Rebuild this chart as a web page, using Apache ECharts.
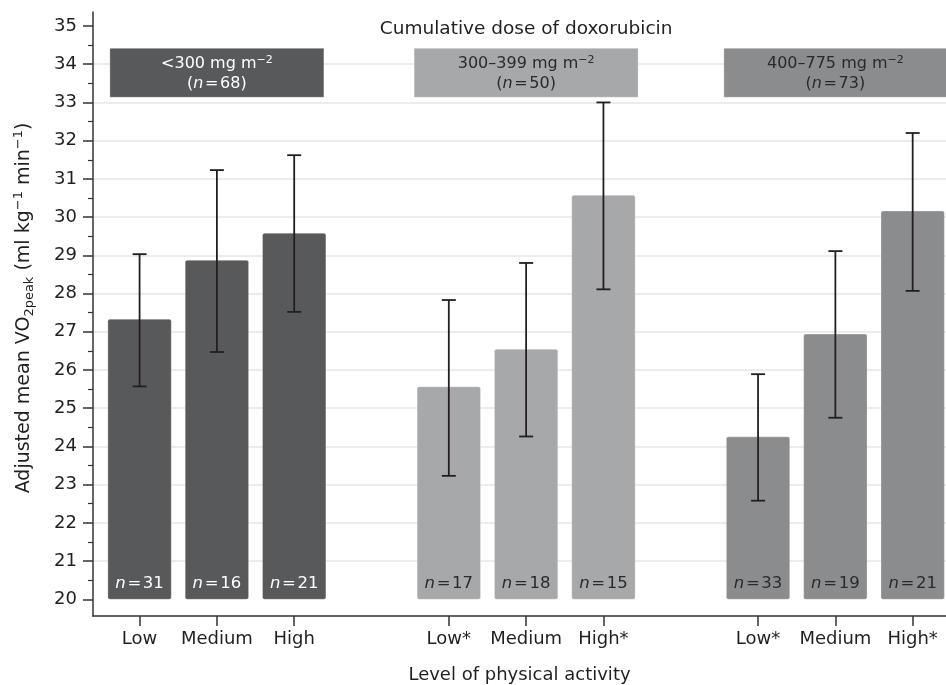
<!DOCTYPE html>
<html><head><meta charset="utf-8">
<script src="https://cdn.jsdelivr.net/npm/echarts@6/dist/echarts.min.js"></script>
<style>html,body{margin:0;padding:0;background:#fff}#c{width:946px;height:685px}</style>
</head><body><div id="c"></div>
<script>
// ---- data ----
const chartTitle = 'Cumulative dose of doxorubicin';
const groupLabels = ['<300', '300–399', '400–775'];
const groupN = [68, 50, 73];
const xLabels = ['Low', 'Medium', 'High', 'Low*', 'Medium', 'High*', 'Low*', 'Medium', 'High*'];
const means = [27.33, 28.87, 29.58, 25.56, 26.54, 30.57, 24.25, 26.94, 30.16];
const upper = [29.03, 31.23, 31.62, 27.83, 28.80, 33.00, 25.89, 29.11, 32.20];
const lower = [25.57, 26.47, 27.52, 23.23, 24.26, 28.11, 22.58, 24.75, 28.07];
const barN = [31, 16, 21, 17, 18, 15, 33, 19, 21];
const yTickLabels = [20, 21, 22, 23, 24, 25, 26, 27, 28, 29, 30, 31, 32, 33, 34, 35];
const yMinorTicks = [20.5, 21.5, 22.5, 23.5, 24.5, 25.5, 26.5, 27.5, 28.5, 29.5, 30.5, 31.5, 32.5, 33.5, 34.5];
const yGridLines = [21, 22, 23, 24, 25, 26, 27, 28, 29, 30, 31, 32, 33, 34];
const barBase = 20;

// ---- layout / style ----
const FONT = 'DejaVu Sans';
const TXT = '#231f20';
const groupColors = ['#58595b', '#a6a8aa', '#8b8c8e'];
const groupText = ['#ffffff', '#2a2a2a', '#2a2a2a'];
const headerWidths = [214, 224, 223];
const slot = i => Math.floor(i / 3) * 4 + (i % 3) + 1;
const slots = xLabels.map((_, i) => slot(i));

const chart = echarts.init(document.getElementById('c'), null, {renderer: 'canvas'});

const yBase = {
  type: 'value', min: 19.563, max: 35.366, gridIndex: 0, position: 'left', offset: 0,
  axisLine: {show: false}, axisLabel: {show: false},
  axisTick: {show: false}, splitLine: {show: false}
};

const option = {
  animation: false,
  backgroundColor: '#ffffff',
  grid: {left: 93, right: 0, top: 12, bottom: 69, containLabel: false, outerBoundsMode: 'none'},
  xAxis: {
    type: 'value', min: 0.3975, max: 11.431,
    axisLine: {show: true, lineStyle: {color: '#333', width: 1.5}},
    axisTick: {show: true, customValues: slots, length: 10, lineStyle: {color: '#333', width: 1.5}},
    axisLabel: {
      show: true, customValues: slots, margin: 14,
      fontFamily: FONT, fontSize: 18, color: TXT,
      formatter: v => xLabels[slots.indexOf(Math.round(v))] || ''
    },
    splitLine: {show: false},
    name: 'Level of physical activity', nameLocation: 'middle', nameGap: 50,
    nameTextStyle: {fontFamily: FONT, fontSize: 18, color: TXT}
  },
  yAxis: [
    Object.assign({}, yBase, {
      axisTick: {show: false, customValues: yGridLines},
      splitLine: {show: true, lineStyle: {color: '#e6e6e6', width: 1.5}}
    }),
    Object.assign({}, yBase, {
      axisTick: {show: true, customValues: yMinorTicks, length: 5, lineStyle: {color: '#333', width: 1.2}}
    }),
    Object.assign({}, yBase, {
      axisLine: {show: true, lineStyle: {color: '#333', width: 1.5}},
      axisTick: {show: true, customValues: yTickLabels, length: 10, lineStyle: {color: '#333', width: 1.5}},
      axisLabel: {show: true, customValues: yTickLabels, margin: 16, fontFamily: FONT, fontSize: 18, color: TXT}
    })
  ],
  graphic: [{
    type: 'text', x: 24, y: 308, rotation: Math.PI / 2,
    style: {
      text: '{a|Adjusted mean VO}{sub|2peak}{a| (ml kg}{sup|−1}{a| min}{sup|−1}{a|)}',
      align: 'center', verticalAlign: 'middle',
      rich: {
        a: {fontFamily: FONT, fontSize: 19, fill: TXT, color: TXT, lineHeight: 24},
        sub: {fontFamily: FONT, fontSize: 13, fill: TXT, color: TXT, lineHeight: 14, verticalAlign: 'bottom'},
        sup: {fontFamily: FONT, fontSize: 13, fill: TXT, color: TXT, lineHeight: 12, verticalAlign: 'top'}
      }
    }
  }],
  series: [
    {
      type: 'custom', name: 'bars', xAxisIndex: 0, yAxisIndex: 0,
      encode: {x: 0, y: 1},
      data: means.map((m, i) => [slot(i), m, i]),
      renderItem: (params, api) => {
        const x = api.value(0), v = api.value(1), i = api.value(2);
        const g = Math.floor(i / 3);
        const top = api.coord([x, v]);
        const bot = api.coord([x, barBase]);
        const w = api.size([0.82, 0])[0];
        return {
          type: 'group', children: [
            {type: 'rect', shape: {x: top[0] - w / 2, y: top[1], width: w, height: bot[1] - top[1], r: 2},
             style: {fill: groupColors[g], stroke: 'rgba(255,255,255,0.3)', lineWidth: 1}},
            {type: 'text', x: top[0], y: bot[1] - 16,
             style: {text: '{i|n}{t|\u200A=\u200A' + barN[i] + '}', align: 'center', verticalAlign: 'middle',
               rich: {
                 i: {fontFamily: FONT, fontSize: 16.5, fontStyle: 'italic', fill: groupText[g], color: groupText[g]},
                 t: {fontFamily: FONT, fontSize: 16.5, fill: groupText[g], color: groupText[g]}
               }}}
          ]
        };
      }
    },
    {
      type: 'custom', name: 'errors', xAxisIndex: 0, yAxisIndex: 0,
      encode: {x: 0, y: [1, 2]},
      data: means.map((m, i) => [slot(i), lower[i], upper[i]]),
      renderItem: (params, api) => {
        const x = api.value(0);
        const lo = api.coord([x, api.value(1)]);
        const hi = api.coord([x, api.value(2)]);
        const c = 7;
        const st = {stroke: '#231f20', lineWidth: 1.8};
        return {
          type: 'group', children: [
            {type: 'line', shape: {x1: lo[0], y1: lo[1], x2: hi[0], y2: hi[1]}, style: st},
            {type: 'line', shape: {x1: lo[0] - c, y1: lo[1], x2: lo[0] + c, y2: lo[1]}, style: st},
            {type: 'line', shape: {x1: hi[0] - c, y1: hi[1], x2: hi[0] + c, y2: hi[1]}, style: st}
          ]
        };
      }
    },
    {
      type: 'custom', name: 'headers', xAxisIndex: 0, yAxisIndex: 0,
      encode: {x: 0},
      data: groupLabels.map((g, k) => [k * 4 + 2, k]),
      renderItem: (params, api) => {
        const k = api.value(1);
        const cx = api.coord([api.value(0), 30])[0];
        const top = params.coordSys.y + 36.3;
        const w = headerWidths[k], h = 49;
        const col = groupText[k];
        const rich = {
          a: {fontFamily: FONT, fontSize: 16, fill: col, color: col, lineHeight: 20},
          i: {fontFamily: FONT, fontSize: 16, fontStyle: 'italic', fill: col, color: col, lineHeight: 20},
          sup: {fontFamily: FONT, fontSize: 11, fill: col, color: col, lineHeight: 11, verticalAlign: 'top'}
        };
        const children = [
          {type: 'rect', shape: {x: cx - w / 2, y: top, width: w, height: h},
           style: {fill: groupColors[k], stroke: 'rgba(255,255,255,0.3)', lineWidth: 1}},
          {type: 'text', x: cx, y: top + h / 2 + 1.5,
           style: {text: '{a|' + groupLabels[k] + ' mg m}{sup|−2}\n{a|(}{i|n}{a|\u200A=\u200A' + groupN[k] + ')}',
                   align: 'center', verticalAlign: 'middle', rich: rich}}
        ];
        if (k === 1) {
          children.push({type: 'text', x: cx, y: params.coordSys.y + 17,
            style: {text: chartTitle, align: 'center', verticalAlign: 'middle',
                    fontFamily: FONT, fontSize: 18.5, fill: TXT}});
        }
        return {type: 'group', children: children};
      }
    }
  ]
};
chart.setOption(option);
</script>
</body></html>
